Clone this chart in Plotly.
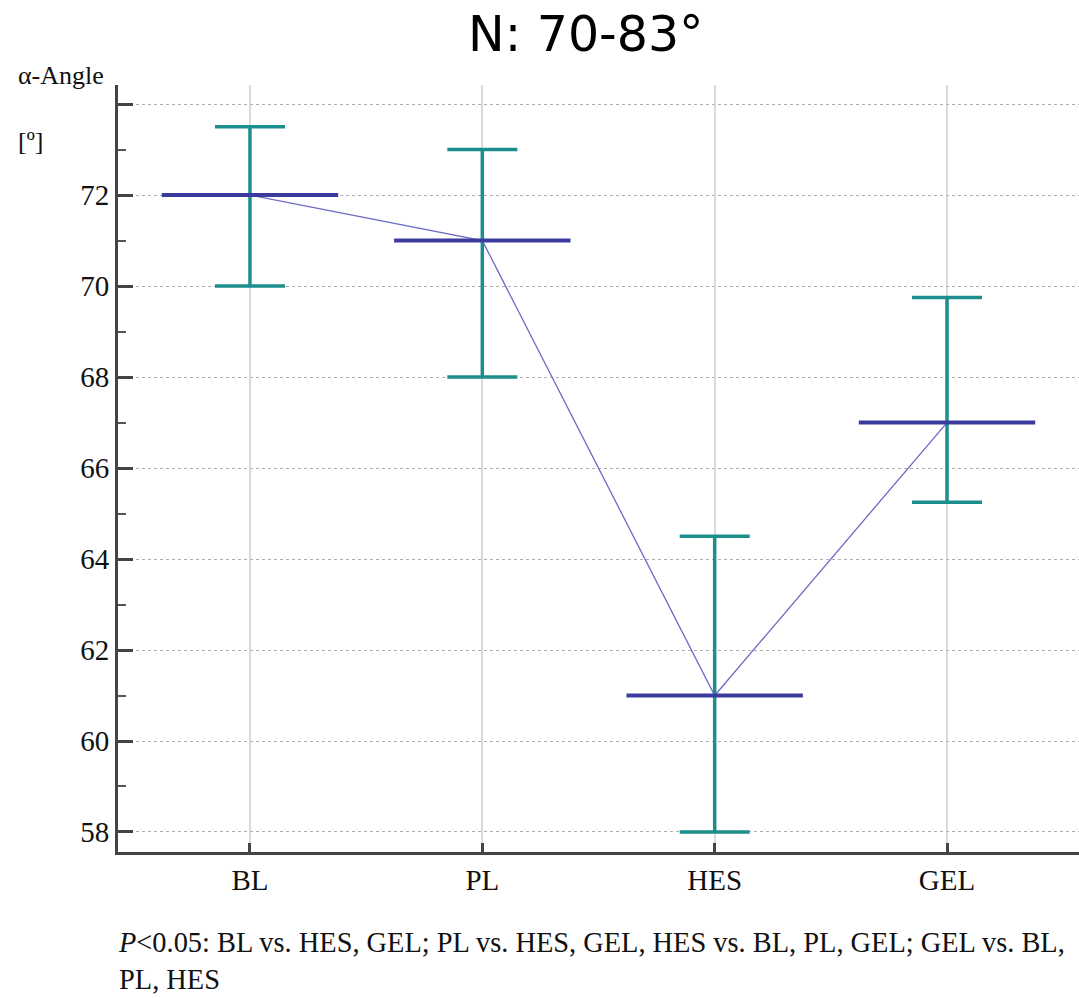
import plotly.graph_objects as go

groups = ["BL", "PL", "HES", "GEL"]
means = [72, 71, 61, 67]
upper = [73.5, 73, 64.5, 69.75]
lower = [70, 68, 58, 65.25]
y_tickvals = [58, 60, 62, 64, 66, 68, 70, 72, 74]
y_ticktext = ["58", "60", "62", "64", "66", "68", "70", "72", ""]
title_text = "N: 70-83°"
y_label = "α-Angle"
y_unit = "[º]"
footnote = ("<i>P</i>&lt;0.05: BL vs. HES, GEL; PL vs. HES, GEL, HES vs. BL, PL, GEL; GEL vs. BL,"
            "<br>PL, HES")

plus = [u - m for u, m in zip(upper, means)]
minus = [m - l for m, l in zip(means, lower)]

W, H = 1079, 998
L, R, T, B = 118, 0, 85, 146
pw, ph = W - L - R, H - T - B

def px_x(x):
    return (x - L) / pw

def px_y(y):
    return (H - B - y) / ph

serif = "Liberation Serif, Times New Roman, serif"

fig = go.Figure()
fig.add_trace(go.Scatter(
    x=groups, y=means, mode="lines",
    line=dict(color="#6a6ac6", width=1.3),
    hoverinfo="skip", showlegend=False))
fig.add_trace(go.Scatter(
    x=groups, y=means, mode="markers",
    marker=dict(symbol="line-ew", size=126, color="#3b3b9e",
                line=dict(color="#3b3b9e", width=4)),
    error_y=dict(type="data", symmetric=False, array=plus, arrayminus=minus,
                 color="#1d8e8e", thickness=3.5, width=35),
    showlegend=False))

fig.update_layout(
    width=W, height=H,
    margin=dict(l=L, r=R, t=T, b=B, pad=0),
    plot_bgcolor="white", paper_bgcolor="white",
    font=dict(family=serif, color="#111"),
    showlegend=False,
)
fig.update_xaxes(
    type="category", range=[-0.568, 3.568],
    showline=True, linewidth=3, linecolor="#444",
    ticks="inside", ticklen=9, tickwidth=3, tickcolor="#444",
    showgrid=True, gridcolor="#dadada", gridwidth=2,
    tickfont=dict(family=serif, size=29, color="#111"),
    zeroline=False,
)
fig.update_yaxes(
    range=[57.56, 74.42],
    tickvals=y_tickvals, ticktext=y_ticktext,
    showline=True, linewidth=3, linecolor="#444",
    ticks="inside", ticklen=15, tickwidth=3, tickcolor="#444",
    minor=dict(dtick=1, tick0=0, ticks="inside", ticklen=8, tickwidth=2,
               tickcolor="#555", showgrid=False),
    showgrid=True, gridcolor="#b0b0b0", gridwidth=1, griddash="dot",
    tickfont=dict(family=serif, size=29, color="#111"),
    zeroline=False,
)

fig.add_annotation(text=title_text, xref="paper", yref="paper",
                   x=px_x(586), y=px_y(35), xanchor="center", yanchor="middle",
                   showarrow=False, font=dict(family="DejaVu Sans", size=49, color="#000"))
fig.add_annotation(text=y_label, xref="paper", yref="paper",
                   x=px_x(16), y=px_y(76), xanchor="left", yanchor="middle",
                   showarrow=False, font=dict(family=serif, size=26, color="#111"))
fig.add_annotation(text=y_unit, xref="paper", yref="paper",
                   x=px_x(16), y=px_y(141), xanchor="left", yanchor="middle",
                   showarrow=False, font=dict(family=serif, size=26, color="#111"))
fig.add_annotation(text=footnote, xref="paper", yref="paper",
                   x=px_x(116), y=px_y(925), xanchor="left", yanchor="top",
                   align="left", showarrow=False,
                   font=dict(family=serif, size=28.4, color="#111"))

fig.write_html("out.html")
